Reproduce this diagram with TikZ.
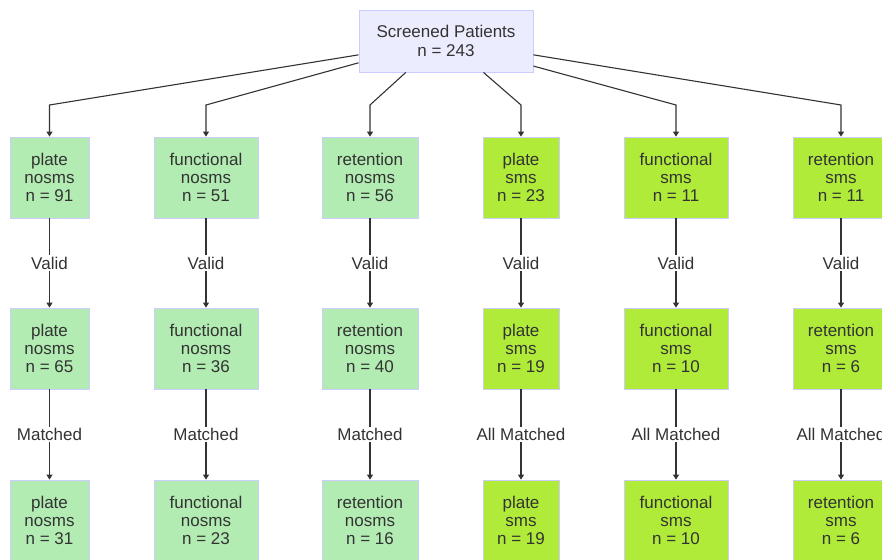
\documentclass[tikz,border=0pt]{standalone}
\usepackage{fontspec}
\setmainfont{Liberation Sans}
\usetikzlibrary{arrows.meta}
\definecolor{topfill}{RGB}{236,236,255}
\definecolor{edgeb}{RGB}{204,204,255}
\definecolor{nosmsfill}{RGB}{178,236,178}
\definecolor{smsfill}{RGB}{176,235,58}
\definecolor{ink}{RGB}{51,51,51}
\tikzset{
  box/.style={draw=edgeb, line width=0.8pt, align=center, inner sep=0pt,
    minimum height=81pt, text=ink, font=\fontsize{17}{18.3}\selectfont},
  nos/.style={box, fill=nosmsfill},
  sms/.style={box, fill=smsfill},
  arr/.style={draw=ink, line width=1.1pt, -{Triangle[length=5pt,width=6pt]}},
  lbl/.style={fill=white, inner sep=1.5pt, text=ink, font=\fontsize{17}{18.3}\selectfont},
}
\begin{document}
\begin{tikzpicture}[x=1pt,y=-1pt]
\useasboundingbox (0,0) rectangle (882,559);
\begin{scope}
\clip (0,0) rectangle (882,559);
\node[box, fill=topfill, minimum width=174pt, minimum height=62pt] (top) at (446,41) {Screened Patients\\n = 243};
% row 1
\node[nos, minimum width=79pt]  (a1) at (49.5,177.5) {plate\\nosms\\n = 91};
\node[nos, minimum width=104pt] (a2) at (206,177.5) {functional\\nosms\\n = 51};
\node[nos, minimum width=96pt]  (a3) at (370,177.5) {retention\\nosms\\n = 56};
\node[sms, minimum width=76pt]  (a4) at (521,177.5) {plate\\sms\\n = 23};
\node[sms, minimum width=104pt] (a5) at (676,177.5) {functional\\sms\\n = 11};
\node[sms, minimum width=96pt]  (a6) at (841,177.5) {retention\\sms\\n = 11};
% row 2
\node[nos, minimum width=79pt]  (b1) at (49.5,348.5) {plate\\nosms\\n = 65};
\node[nos, minimum width=104pt] (b2) at (206,348.5) {functional\\nosms\\n = 36};
\node[nos, minimum width=96pt]  (b3) at (370,348.5) {retention\\nosms\\n = 40};
\node[sms, minimum width=76pt]  (b4) at (521,348.5) {plate\\sms\\n = 19};
\node[sms, minimum width=104pt] (b5) at (676,348.5) {functional\\sms\\n = 10};
\node[sms, minimum width=96pt]  (b6) at (841,348.5) {retention\\sms\\n = 6};
% row 3
\node[nos, minimum width=79pt]  (c1) at (49.5,520.5) {plate\\nosms\\n = 31};
\node[nos, minimum width=104pt] (c2) at (206,520.5) {functional\\nosms\\n = 23};
\node[nos, minimum width=96pt]  (c3) at (370,520.5) {retention\\nosms\\n = 16};
\node[sms, minimum width=76pt]  (c4) at (521,520.5) {plate\\sms\\n = 19};
\node[sms, minimum width=104pt] (c5) at (676,520.5) {functional\\sms\\n = 10};
\node[sms, minimum width=96pt]  (c6) at (841,520.5) {retention\\sms\\n = 6};
% top edges
\draw[arr] (top.189) -- (a1.north |- 0,105) -- (a1.north);
\draw[arr] (top.194) -- (a2.north |- 0,105) -- (a2.north);
\draw[arr] (top.218.5) -- (a3.north |- 0,105) -- (a3.north);
\draw[arr] (top.320) -- (a4.north |- 0,105) -- (a4.north);
\draw[arr] (top.344) -- (a5.north |- 0,105) -- (a5.north);
\draw[arr] (top.351) -- (a6.north |- 0,105) -- (a6.north);
% valid edges
\foreach \i in {1,...,6}{
  \draw[arr] (a\i.south) -- node[lbl]{Valid} (b\i.north);
}
\foreach \i in {1,2,3}{
  \draw[arr] (b\i.south) -- node[lbl]{Matched} (c\i.north);
}
\foreach \i in {4,5,6}{
  \draw[arr] (b\i.south) -- node[lbl]{All Matched} (c\i.north);
}
\end{scope}
\end{tikzpicture}
\end{document}
